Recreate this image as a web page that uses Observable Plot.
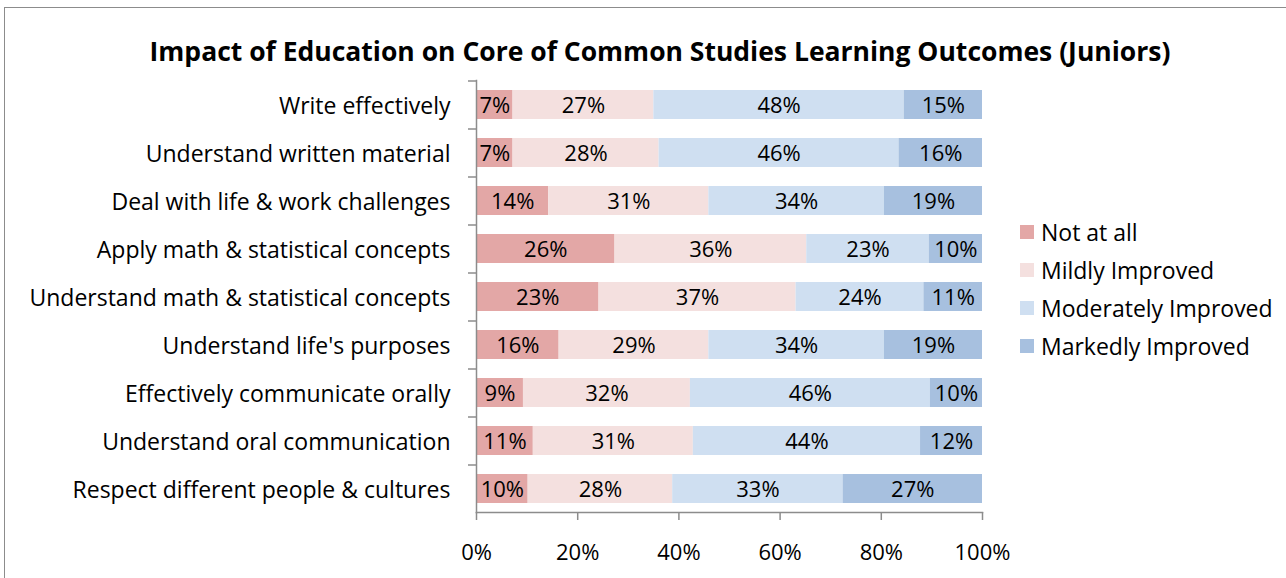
<!DOCTYPE html>
<html>
<head>
<meta charset="utf-8">
<script src="https://cdn.jsdelivr.net/npm/d3@7"></script>
<script src="https://cdn.jsdelivr.net/npm/@observablehq/plot@0.6"></script>
<style>
  html, body { margin: 0; padding: 0; background: #fff; }
  #wrap { position: relative; width: 1286px; height: 578px; overflow: hidden; font-family: "Open Sans", Lato, sans-serif; }
  #frame { position: absolute; left: 4px; top: 7px; width: 1300px; height: 600px; border: 1.5px solid #8c8c8c; box-sizing: border-box; }
  #title { position: absolute; left: 0; width: 1320px; top: 33px; text-align: center; font-weight: bold; font-size: 26.5px; color: #000; }
  #chart { position: absolute; left: 0; top: 0; }
  #legend { position: absolute; left: 1020px; top: 213px; font-size: 23px; color: #000; }
  .li { display: flex; align-items: center; height: 38px; white-space: nowrap; }
  .sw { width: 14px; height: 14px; margin-right: 7px; flex: none; }
</style>
</head>
<body>
<div id="wrap">
  <div id="frame"></div>
  <div id="title">Impact of Education on Core of Common Studies Learning Outcomes (Juniors)</div>
  <div id="chart"></div>
  <div id="legend"></div>
</div>
<script>
const items = [
  "Write effectively",
  "Understand written material",
  "Deal with life & work challenges",
  "Apply math & statistical concepts",
  "Understand math & statistical concepts",
  "Understand life's purposes",
  "Effectively communicate orally",
  "Understand oral communication",
  "Respect different people & cultures"
];
const categories = ["Not at all", "Mildly Improved", "Moderately Improved", "Markedly Improved"];
const colors = ["#e3a7a6", "#f4e0df", "#cfdff1", "#a7c0df"];
const notAtAll   = [7, 7, 14, 26, 23, 16, 9, 11, 10];
const mildly     = [27, 28, 31, 36, 37, 29, 32, 31, 28];
const moderately = [48, 46, 34, 23, 24, 34, 46, 44, 33];
const markedly   = [15, 16, 19, 10, 11, 19, 10, 12, 27];
const xTicks = [0, 0.2, 0.4, 0.6, 0.8, 1];

const series = [notAtAll, mildly, moderately, markedly];
const data = [];
items.forEach((it, i) => {
  categories.forEach((c, j) => data.push({item: it, cat: c, value: series[j][i]}));
});

const fontFamily = '"Open Sans", Lato, sans-serif';
const axisColor = "#8c8c8c";

const chart = Plot.plot({
  width: 1286,
  height: 578,
  marginLeft: 476,
  marginRight: 304,
  marginTop: 80,
  marginBottom: 66,
  style: {fontFamily, fontSize: "20px", color: "#000", background: "transparent"},
  x: {domain: [0, 1], axis: null, label: null},
  y: {domain: items, paddingInner: 0.4, paddingOuter: 0.2, axis: null, label: null},
  color: {domain: categories, range: colors},
  marks: [
    Plot.barX(data, Plot.stackX({x: "value", y: "item", fill: "cat", offset: "normalize", order: categories})),
    Plot.text(data, Plot.stackX({x: "value", y: "item", z: "cat", offset: "normalize", order: categories, text: d => d.value + "%", fontSize: 22, fill: "#000", dy: 1})),
    Plot.frame({anchor: "left", stroke: axisColor, strokeWidth: 1.5}),
    Plot.frame({anchor: "bottom", stroke: axisColor, strokeWidth: 1.5}),
    Plot.axisY({tickSize: 8, tickFormat: null, dy: -24, stroke: axisColor, strokeWidth: 1.5, label: null}),
    Plot.axisY({tickSize: 0, tickPadding: 26, fontSize: 23, fill: "#000", label: null, dy: 2}),
    Plot.axisX({ticks: xTicks, tickSize: 8, tickPadding: 24, tickFormat: d3.format(".0%"), fontSize: 22, stroke: axisColor, strokeWidth: 1.5, fill: "#000", label: null})
  ]
});
document.getElementById("chart").appendChild(chart);

const legend = document.getElementById("legend");
categories.forEach((c, j) => {
  const row = document.createElement("div");
  row.className = "li";
  const sw = document.createElement("span");
  sw.className = "sw";
  sw.style.background = colors[j];
  const t = document.createElement("span");
  t.textContent = c;
  row.appendChild(sw);
  row.appendChild(t);
  legend.appendChild(row);
});
</script>
</body>
</html>
